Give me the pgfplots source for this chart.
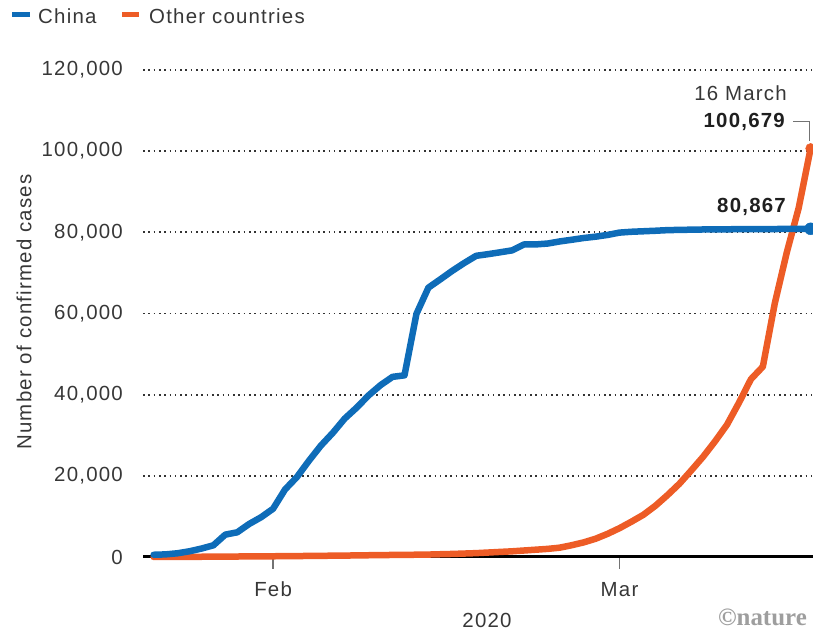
\documentclass[border=0pt]{standalone}
\usepackage{pgfplots}
\usepackage{pgfplotstable}
\pgfplotsset{compat=1.18}
\usepackage{fontspec}
\setmainfont{Liberation Sans}[LetterSpace=6]
\newfontfamily\natfont{Liberation Serif}
\definecolor{cblue}{RGB}{14,108,184}
\definecolor{corange}{RGB}{237,92,38}
\definecolor{txt}{RGB}{55,55,55}
\newcommand\F{\fontsize{20.5}{24}\selectfont}

% d = days since 22 Jan 2020
\pgfplotstableread{
d china others
0 548 10
1 643 20
2 920 30
3 1406 40
4 2075 60
5 2877 80
6 5509 100
7 6087 120
8 8141 140
9 9802 160
10 11891 180
11 16630 200
12 19716 230
13 23707 260
14 27440 290
15 30587 320
16 34110 350
17 36814 390
18 39829 430
19 42354 470
20 44386 500
21 44759 530
22 59895 560
23 66358 600
24 68413 680
25 70513 750
26 72434 850
27 74211 950
28 74619 1100
29 75077 1250
30 75550 1400
31 77001 1600
32 77022 1800
33 77241 2000
34 77754 2300
35 78166 2900
36 78600 3600
37 78928 4500
38 79356 5700
39 79932 7100
40 80136 8700
41 80261 10400
42 80386 12600
43 80537 15200
44 80600 18000
45 80650 21300
46 80700 24700
47 80730 28500
48 80750 32600
49 80770 38000
50 80790 43800
51 80800 46900
52 80815 62500
53 80830 75000
54 80850 86000
55 80867 100679
}\data

\pgfplotstableread{
d china others
55 80867 100679
}\last

\begin{document}
\begin{tikzpicture}[x=1bp,y=1bp]
\path[use as bounding box] (0,0) rectangle (813,631);
\begin{axis}[
  at={(143bp,74bp)}, anchor=south west,
  scale only axis, width=670bp, height=487bp,
  xmin=-0.89, xmax=55.2, ymin=0, ymax=120000,
  clip=false,
  axis line style={draw=none},
  xtick={10,39}, xticklabels={Feb,Mar},
  xtick pos=bottom, ytick pos=left,
  ytick={0,20000,40000,60000,80000,100000,120000},
  scaled y ticks=false,
  /pgf/number format/.cd, fixed, 1000 sep={,}, assume math mode=true,
  /pgfplots/.cd,
  tick align=outside,
  major tick length=10bp,
  xtick style={draw=none},
  ytick style={draw=none},
  yticklabel style={font=\F, color=txt, anchor=east, inner sep=0pt, xshift=-10bp},
  xticklabel style={font=\F, color=txt, anchor=north, inner sep=0pt, yshift=-15bp},
  ymajorgrids,
  major grid style={color=black!80, line width=1.7bp, dash pattern=on 1.6bp off 3.7bp},
]
\draw[black!55, line width=1.2bp] (axis cs:10,0) -- ([yshift=-12bp]axis cs:10,0);
\draw[black!55, line width=1.2bp] (axis cs:39,0) -- ([yshift=-12bp]axis cs:39,0);
\draw[black, line width=3bp] (axis cs:-0.89,0) -- (axis cs:55.2,0);
\addplot[corange, line width=6.5bp, line join=round, line cap=round] table[x=d, y=others] {\data};
\addplot[cblue, line width=6.5bp, line join=round, line cap=round] table[x=d, y=china] {\data};
\addplot[only marks, mark=*, mark size=5bp, mark options={draw=corange, fill=corange}] table[x=d, y=others] {\last};
\addplot[only marks, mark=*, mark size=6bp, mark options={draw=cblue, fill=cblue}] table[x=d, y=china] {\last};
\end{axis}
% legend
\draw[cblue, line width=5bp] (12,616) -- (30,616);
\node[anchor=west, inner sep=0pt, font=\F, color=txt] at (38,615) {China};
\draw[corange, line width=5bp] (122,616) -- (139,616);
\node[anchor=west, inner sep=0pt, font=\F, color=txt] at (149,615) {Other countries};
% axis title
\node[rotate=90, font=\F, color=txt, inner sep=0pt] at (24,319) {Number of confirmed cases};
\node[font=\F, color=txt, inner sep=0pt] at (487,11) {2020};
\node[font=\fontsize{25}{28}\natfont\bfseries, color=black!38, inner sep=0pt, anchor=east] at (807,14) {\textcopyright nature};
% annotations
\node[anchor=east, font=\F, color=txt, inner sep=0pt] at (787,538) {16 March};
\node[anchor=east, font=\F\bfseries, color=black!88, inner sep=0pt] at (785,509) {100,679};
\draw[black!55, line width=1bp] (793,509) -- (809,509) -- (809,490);
\node[anchor=east, font=\F\bfseries, color=black!88, inner sep=0pt] at (786,424) {80,867};
\end{tikzpicture}
\end{document}
